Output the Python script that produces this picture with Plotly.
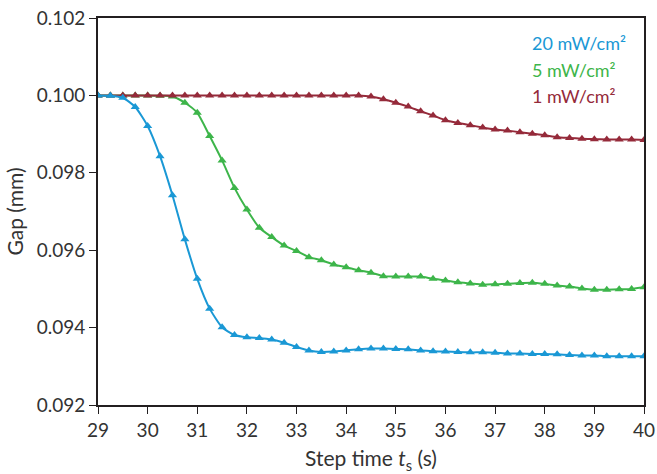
import plotly.graph_objects as go

step_time = [29 + 0.25 * i for i in range(45)]

gap_20 = [0.10000, 0.09999, 0.09994, 0.09970, 0.09921, 0.09843, 0.09742, 0.09628,
          0.09526, 0.09449, 0.09401, 0.09381, 0.09375, 0.09373, 0.09369, 0.09361,
          0.09350, 0.09341, 0.09337, 0.09338, 0.09341, 0.09344, 0.09346, 0.09346,
          0.09345, 0.09344, 0.09341, 0.09339, 0.09338, 0.09337, 0.09336, 0.09336,
          0.09335, 0.09333, 0.09333, 0.09332, 0.09332, 0.09331, 0.09329, 0.09328,
          0.09328, 0.09326, 0.09326, 0.09326, 0.09326]

gap_5 = [0.10000, 0.10000, 0.10000, 0.10000, 0.10000, 0.09999, 0.09997, 0.09981,
         0.09955, 0.09895, 0.09832, 0.09761, 0.09705, 0.09658, 0.09634, 0.09612,
         0.09598, 0.09582, 0.09574, 0.09563, 0.09556, 0.09548, 0.09542, 0.09533,
         0.09532, 0.09532, 0.09532, 0.09526, 0.09522, 0.09517, 0.09514, 0.09511,
         0.09512, 0.09513, 0.09515, 0.09516, 0.09513, 0.09509, 0.09506, 0.09501,
         0.09498, 0.09498, 0.09499, 0.09500, 0.09504]

gap_1 = [0.10000, 0.10000, 0.10000, 0.10000, 0.10000, 0.10000, 0.10000, 0.10000,
         0.10000, 0.10000, 0.10000, 0.10000, 0.10000, 0.10000, 0.10000, 0.10000,
         0.10000, 0.10000, 0.10000, 0.10000, 0.10000, 0.10000, 0.09997, 0.09990,
         0.09981, 0.09971, 0.09959, 0.09948, 0.09936, 0.09929, 0.09923, 0.09917,
         0.09912, 0.09909, 0.09905, 0.09901, 0.09897, 0.09892, 0.09890, 0.09888,
         0.09887, 0.09886, 0.09886, 0.09886, 0.09885]

series_names = ["20 mW/cm²", "5 mW/cm²", "1 mW/cm²"]
series_colors = ["#1a98d5", "#3db54a", "#952a3a"]

x_ticks = list(range(29, 41))
y_ticks = [0.092, 0.094, 0.096, 0.098, 0.100, 0.102]

FONT = "Lato, Open Sans, sans-serif"
TEXT_COLOR = "#333333"
AXIS_COLOR = "#231f20"

fig = go.Figure()
for idx in [1, 2, 0]:
    ys = [gap_20, gap_5, gap_1][idx]
    fig.add_trace(go.Scatter(
        x=step_time, y=ys, mode="lines+markers", name=series_names[idx],
        line=dict(color=series_colors[idx], width=2, shape="spline", smoothing=0.6),
        marker=dict(symbol="triangle-up", size=8, color=series_colors[idx]),
        showlegend=False,
    ))

legend_y = [0.935, 0.866, 0.798]
for name, col, yy in zip(series_names, series_colors, legend_y):
    fig.add_annotation(
        xref="paper", yref="paper", x=0.791, y=yy,
        text=name, showarrow=False, xanchor="left", yanchor="middle",
        font=dict(family=FONT, size=18, color=col),
    )

axis_common = dict(
    showline=True, linecolor=AXIS_COLOR, linewidth=1.8, mirror=True,
    ticks="outside", ticklen=7, tickwidth=1.3, tickcolor=AXIS_COLOR,
    showgrid=False, zeroline=False, ticklabeloverflow="allow",
    tickfont=dict(family=FONT, size=19, color=TEXT_COLOR),
)

fig.update_xaxes(range=[29, 40], tickvals=x_ticks, ticktext=[str(v) for v in x_ticks],
                 title=dict(text="Step time <i>t</i><sub>s</sub> (s)",
                            font=dict(family=FONT, size=21, color=TEXT_COLOR), standoff=12),
                 automargin=False, **axis_common)
fig.update_yaxes(range=[0.092, 0.102], tickvals=y_ticks, ticktext=[f"{v:.3f}" for v in y_ticks],
                 title=dict(text="Gap (mm)", font=dict(family=FONT, size=21, color=TEXT_COLOR),
                            standoff=7),
                 automargin=False, **axis_common)

fig.update_layout(
    width=657, height=474,
    margin=dict(l=98, r=13, t=18, b=69),
    plot_bgcolor="white", paper_bgcolor="white",
    font=dict(family=FONT),
)

fig.write_html("out.html", config={"displayModeBar": False},
               post_script="document.body.style.margin='0';")
